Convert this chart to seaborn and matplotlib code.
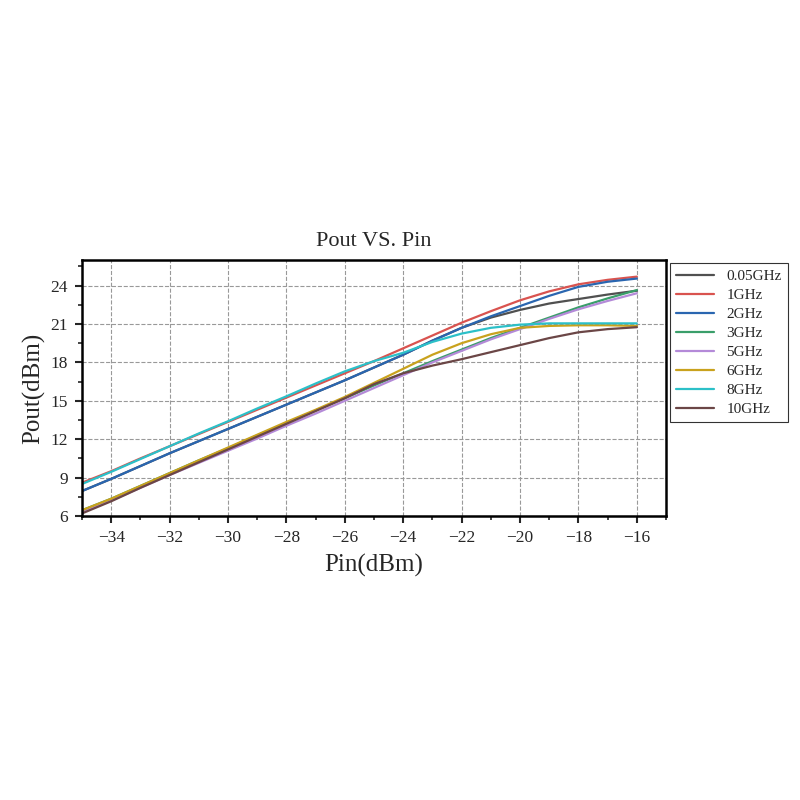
import numpy as np
import pandas as pd
import matplotlib
matplotlib.use("Agg")
import matplotlib.pyplot as plt
import seaborn as sns
from matplotlib.ticker import MultipleLocator

pin = [-35, -34, -33, -32, -31, -30, -29, -28, -27, -26,
       -25, -24, -23, -22, -21, -20, -19, -18, -17, -16]

pout_005 = [7.95, 8.9, 9.9, 10.9, 11.85, 12.8, 13.75, 14.7, 15.65, 16.6,
            17.6, 18.6, 19.7, 20.7, 21.5, 22.1, 22.6, 22.95, 23.3, 23.6]
pout_1 = [8.6, 9.5, 10.5, 11.45, 12.4, 13.35, 14.3, 15.25, 16.2, 17.15,
          18.1, 19.1, 20.1, 21.1, 22.0, 22.85, 23.55, 24.1, 24.45, 24.7]
pout_2 = [7.95, 8.9, 9.9, 10.9, 11.85, 12.8, 13.75, 14.7, 15.65, 16.6,
          17.6, 18.6, 19.7, 20.7, 21.6, 22.4, 23.2, 23.9, 24.3, 24.55]
pout_3 = [6.45, 7.35, 8.35, 9.35, 10.35, 11.3, 12.3, 13.25, 14.25, 15.2,
          16.2, 17.15, 18.1, 19.0, 19.9, 20.7, 21.5, 22.3, 23.0, 23.65]
pout_5 = [6.3, 7.2, 8.2, 9.2, 10.15, 11.1, 12.05, 13.05, 14.0, 15.0,
          16.0, 17.0, 18.0, 18.9, 19.8, 20.6, 21.4, 22.15, 22.8, 23.4]
pout_6 = [6.45, 7.35, 8.35, 9.35, 10.35, 11.35, 12.35, 13.35, 14.3, 15.3,
          16.4, 17.5, 18.6, 19.5, 20.2, 20.7, 20.85, 20.9, 20.9, 20.85]
pout_8 = [8.5, 9.45, 10.45, 11.45, 12.45, 13.4, 14.4, 15.35, 16.35, 17.3,
          18.1, 18.75, 19.6, 20.25, 20.7, 20.95, 21.05, 21.05, 21.05, 21.05]
pout_10 = [6.2, 7.15, 8.2, 9.2, 10.2, 11.2, 12.2, 13.2, 14.2, 15.2,
           16.3, 17.15, 17.75, 18.25, 18.8, 19.35, 19.9, 20.35, 20.6, 20.75]

freqs = ["0.05GHz", "1GHz", "2GHz", "3GHz", "5GHz", "6GHz", "8GHz", "10GHz"]
series = [pout_005, pout_1, pout_2, pout_3, pout_5, pout_6, pout_8, pout_10]
colors = ["#505050", "#d9534f", "#2a66b0", "#3a9e6a", "#b48ad8",
          "#c9a21d", "#2cc0c8", "#6b4646"]

rows = []
for f, vals in zip(freqs, series):
    for x, y in zip(pin, vals):
        rows.append({"Pin": x, "Pout": y, "Freq": f})
df = pd.DataFrame(rows)

sns.set_style("ticks")
plt.rcParams["font.family"] = ["Liberation Serif", "DejaVu Serif"]

fig = plt.figure(figsize=(8, 8), dpi=100)
ax = fig.add_axes([0.1025, 0.355, 0.73, 0.32])

sns.lineplot(data=df, x="Pin", y="Pout", hue="Freq", hue_order=freqs,
             palette=colors, linewidth=1.6, ax=ax, legend=True)

ax.set_xlim(-35, -15)
ax.set_ylim(6, 26)
ax.xaxis.set_major_locator(MultipleLocator(2))
ax.xaxis.set_minor_locator(MultipleLocator(1))
ax.yaxis.set_major_locator(MultipleLocator(3))
ax.yaxis.set_minor_locator(MultipleLocator(1.5))
ax.set_xticks(np.arange(-34, -15, 2))

ax.grid(True, which="major", linestyle="--", color="#999999", linewidth=0.8)
ax.tick_params(axis="both", which="major", direction="out", length=5, width=1.5,
               labelsize=12.5, pad=5, top=False, right=False)
ax.tick_params(axis="both", which="minor", direction="out", length=3, width=1.2,
               top=False, right=False)
for s in ax.spines.values():
    s.set_linewidth(1.8)
    s.set_color("black")

ax.set_title("Pout VS. Pin", fontsize=16, pad=10)
ax.set_xlabel("Pin(dBm)", fontsize=18, labelpad=6)
ax.set_ylabel("Pout(dBm)", fontsize=18, labelpad=4)

leg = ax.legend(loc="upper left", bbox_to_anchor=(0.8375, 0.671),
                bbox_transform=fig.transFigure, fontsize=11, frameon=True,
                fancybox=False, borderaxespad=0, handlelength=2.5,
                labelspacing=0.35)
leg.get_frame().set_edgecolor("black")
leg.get_frame().set_linewidth(0.8)

fig.savefig("out.png", dpi=100)
